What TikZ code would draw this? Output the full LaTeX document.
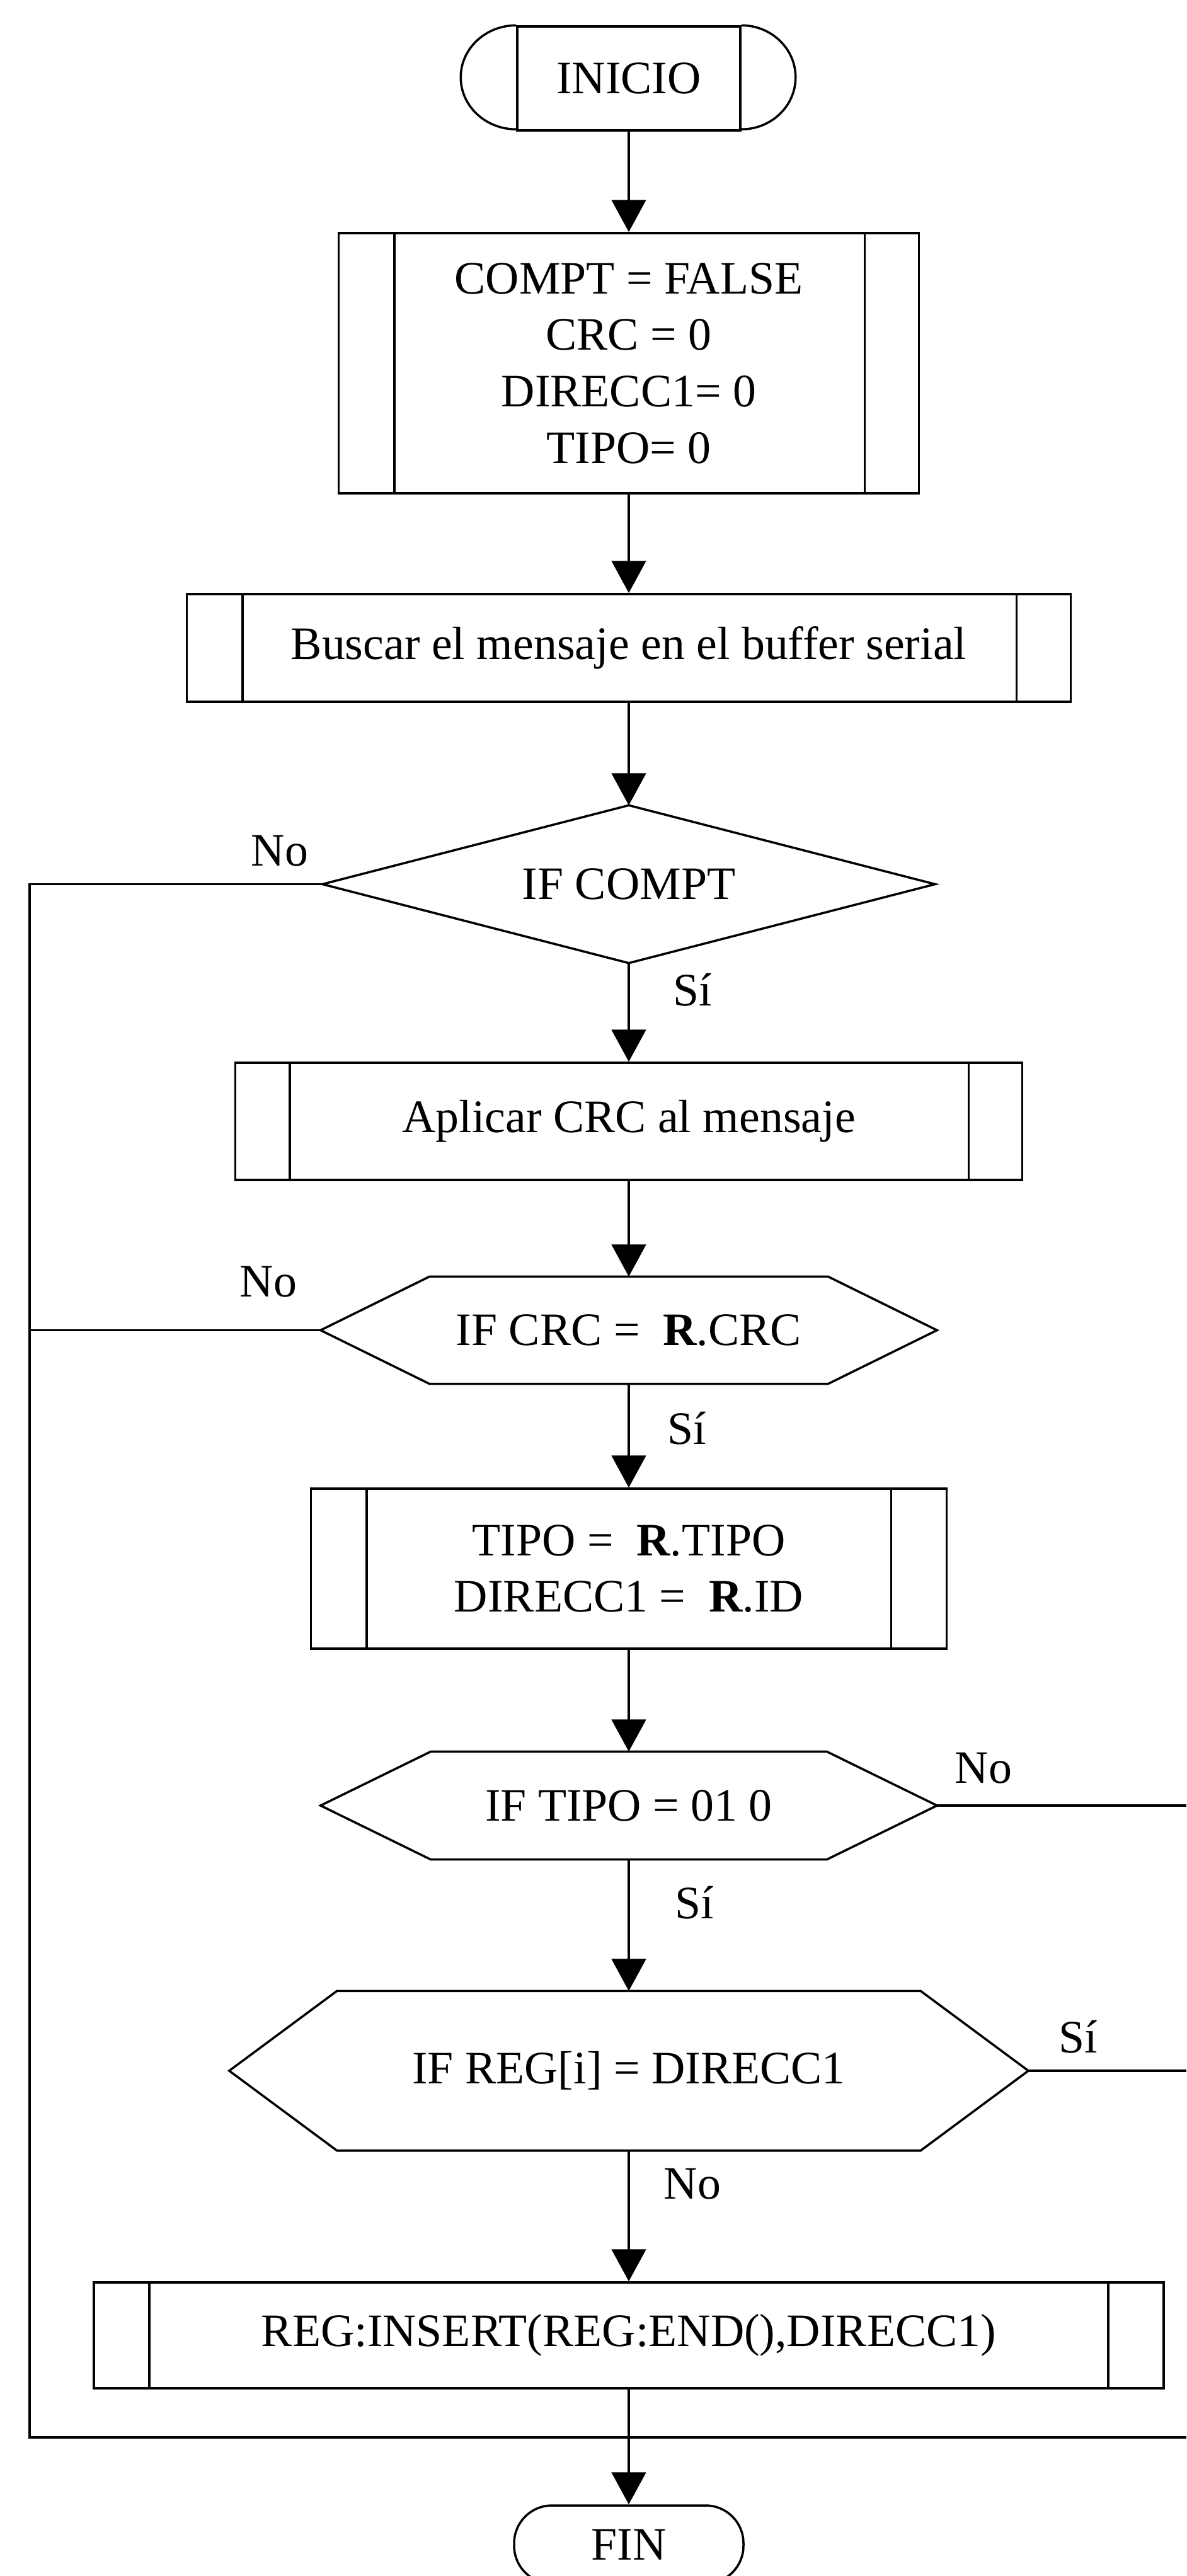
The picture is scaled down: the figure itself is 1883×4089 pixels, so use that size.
\documentclass[tikz,border=0pt]{standalone}
\usepackage{fontspec}
\setmainfont{Liberation Serif}
\usetikzlibrary{arrows.meta,calc}
\newcommand{\predef}[3]{%
  \draw[plain] ($(#1.north west)+(#2,0)$) -- ($(#1.south west)+(#2,0)$);
  \draw[plain] ($(#1.north east)+(-#3,0)$) -- ($(#1.south east)+(-#3,0)$);}
\newcommand{\hexa}[2]{%
  \draw[plain] (#1.west) -- ($(#1.north west)+(#2,0)$) -- ($(#1.north east)+(-#2,0)$) -- (#1.east) -- ($(#1.south east)+(-#2,0)$) -- ($(#1.south west)+(#2,0)$) -- cycle;}
\begin{document}
\begin{tikzpicture}[x=0.1mm,y=-0.1mm,
  txt/.style={font=\fontsize{21}{25.5}\selectfont, inner sep=0pt, align=center},
  proc/.style={txt, draw, line width=1pt},
  blank/.style={txt},
  sz/.style 2 args={minimum width=#1*0.1mm, minimum height=#2*0.1mm},
  plain/.style={line width=1pt},
  conn/.style={line width=1pt, -{Triangle[length=14.5pt,width=15.5pt]}},
  lbl/.style={txt}]
\fill[white] (0,0) rectangle (1883,4089);
\useasboundingbox (0,0) rectangle (1883,4089);

% terminal INICIO
\node[proc, sz={354}{165}] (ini) at (998,124.5) {INICIO};
\draw[plain] (ini.north west) arc[start angle=90, end angle=270, x radius=8.8mm, y radius=8.25mm];
\draw[plain] (ini.north east) arc[start angle=90, end angle=-90, x radius=8.6mm, y radius=8.25mm];

% process boxes and decisions
\node[proc, sz={921}{413}] (b1) at (998,576.5) {COMPT = FALSE\\CRC = 0\\DIRECC1= 0\\TIPO= 0};
\predef{b1}{90}{88}
\node[proc, sz={1403}{171}] (b2) at (998,1028.5) {Buscar el mensaje en el buffer serial};
\predef{b2}{90}{88}
\node[blank, sz={971}{249}] (d1) at (998,1403.5) {IF COMPT};
\draw[plain] (d1.west) -- (d1.north) -- (d1.east) -- (d1.south) -- cycle;
\node[proc, sz={1249}{186}] (b3) at (998,1780) {Aplicar CRC al mensaje};
\predef{b3}{88}{87}
\node[blank, sz={977}{169}] (h1) at (998,2111.5) {IF CRC =\ \ \textbf{R}.CRC};
\hexa{h1}{173}
\node[proc, sz={1009}{254}] (b4) at (998,2490) {TIPO =\ \ \textbf{R}.TIPO\\DIRECC1 =\ \ \textbf{R}.ID};
\predef{b4}{90}{90}
\node[blank, sz={977}{170}] (h2) at (998,2866) {IF TIPO = 01 0};
\hexa{h2}{175}
\node[blank, sz={1267}{252}] (h3) at (998,3287) {IF REG[i] = DIRECC1};
\hexa{h3}{171}
\node[proc, sz={1698}{168}] (b5) at (998,3707) {REG:INSERT(REG:END(),DIRECC1)};
\predef{b5}{90}{90}
\node[proc, rounded corners=6mm, sz={364}{124}] (fin) at (998,4039) {FIN};

% helper coordinates
\coordinate (lb) at (47,3869);
\coordinate (rb) at (1883,3869);
\coordinate (mb) at (998,3869);
\coordinate (lt1) at (d1.west -| lb);
\coordinate (lt2) at (h1.west -| lb);
\coordinate (rt1) at (h2.east -| rb);
\coordinate (rt2) at (h3.east -| rb);

% connectors
\draw[conn] (ini.south) -- (b1.north);
\draw[conn] (b1.south) -- (b2.north);
\draw[conn] (b2.south) -- (d1.north);
\draw[conn] (d1.south) -- (b3.north);
\draw[conn] (b3.south) -- (h1.north);
\draw[conn] (h1.south) -- (b4.north);
\draw[conn] (b4.south) -- (h2.north);
\draw[conn] (h2.south) -- (h3.north);
\draw[conn] (h3.south) -- (b5.north);
\draw[plain] (b5.south) -- (mb);
\draw[conn] (mb) -- (fin.north);
\draw[plain] (d1.west) -- (lt1) -- (lb) -- (rb);
\draw[plain] (h1.west) -- (lt2);
\draw[plain] (h2.east) -- (rt1);
\draw[plain] (h3.east) -- (rt2);

% labels
\node[lbl] (n1) at (444,1351) {No};
\node[lbl] (s1) at (1099,1571) {Sí};
\node[lbl] (n2) at (426,2035) {No};
\node[lbl] (s2) at (1090,2267) {Sí};
\node[lbl] (n3) at (1561,2807) {No};
\node[lbl] (s3) at (1102,3020) {Sí};
\node[lbl] (s4) at (1711,3233) {Sí};
\node[lbl] (n4) at (1099,3467) {No};
\end{tikzpicture}
\end{document}
